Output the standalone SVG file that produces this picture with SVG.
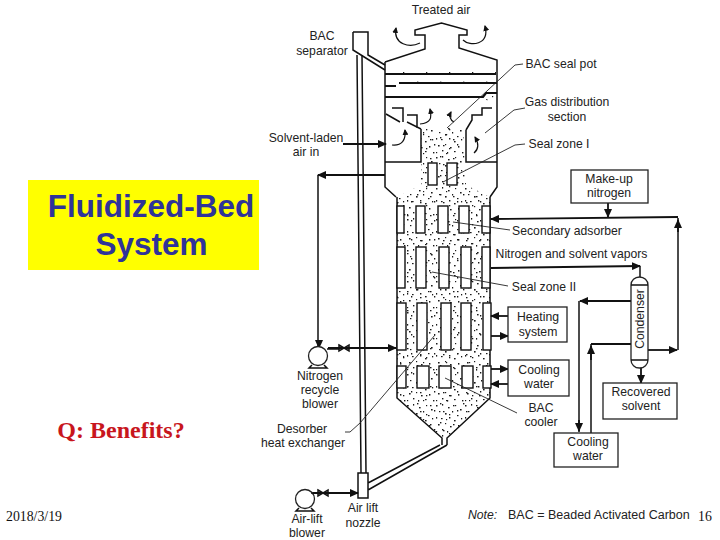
<svg xmlns="http://www.w3.org/2000/svg" width="720" height="540" viewBox="0 0 720 540">
<style>
.l{font-family:"Liberation Sans",Arial,sans-serif;font-size:12.2px;fill:#222;text-anchor:middle}
.s{fill:none;stroke:#111;stroke-width:1.5}
.b{fill:none;stroke:#111;stroke-width:2.2}
.t{fill:#fff;stroke:#111;stroke-width:1.4}
.x{fill:#fff;stroke:#222;stroke-width:1.3}
.d{fill:none;stroke:#222;stroke-width:.9}
.a{fill:none;stroke:#111;stroke-width:1.8;marker-end:url(#ah)}
.ar{fill:none;stroke:#111;stroke-width:1.2;marker-end:url(#ah2)}
.big{font-family:"Liberation Sans",Arial,sans-serif;font-size:31.500px;font-weight:bold;fill:#2f3399;text-anchor:middle}
.sf{font-family:"Liberation Serif","Times New Roman",serif;font-size:13.800px;fill:#111}
</style>
<defs>
<marker id="ah" markerUnits="userSpaceOnUse" markerWidth="9" markerHeight="8" refX="8" refY="4" orient="auto"><path d="M0 0L9 4L0 8Z" fill="#111"/></marker>
<marker id="ah2" markerUnits="userSpaceOnUse" markerWidth="6" markerHeight="6" refX="5" refY="3" orient="auto"><path d="M0 0L6 3L0 6Z" fill="#111"/></marker>
<pattern id="st" width="29" height="31" patternUnits="userSpaceOnUse">
<g fill="#1a1a1a"><rect x="1" y="2" width="1.5" height="1.5"/><rect x="7" y="1" width="1.2" height="1.6"/><rect x="13" y="4" width="1.6" height="1.4"/><rect x="20" y="2" width="1.2" height="1.2"/><rect x="25" y="6" width="1.6" height="1.5"/><rect x="4" y="8" width="1.4" height="1.2"/><rect x="10" y="10" width="1.6" height="1.6"/><rect x="17" y="8" width="1.2" height="1.5"/><rect x="22" y="12" width="1.5" height="1.2"/><rect x="1" y="14" width="1.2" height="1.6"/><rect x="6" y="15" width="1.6" height="1.2"/><rect x="14" y="14" width="1.4" height="1.5"/><rect x="26" y="15" width="1.2" height="1.4"/><rect x="19" y="17" width="1.6" height="1.4"/><rect x="3" y="21" width="1.6" height="1.5"/><rect x="10" y="20" width="1.2" height="1.2"/><rect x="15" y="23" width="1.6" height="1.4"/><rect x="23" y="22" width="1.4" height="1.6"/><rect x="7" y="26" width="1.4" height="1.4"/><rect x="12" y="28" width="1.2" height="1.6"/><rect x="19" y="27" width="1.6" height="1.2"/><rect x="27" y="28" width="1.4" height="1.4"/><rect x="1" y="28" width="1.2" height="1.2"/></g>
</pattern>
<pattern id="st2" width="23" height="19" patternUnits="userSpaceOnUse">
<g fill="#1a1a1a"><rect x="3" y="4" width="1.4" height="1.4"/><rect x="9" y="1" width="1.2" height="1.2"/><rect x="16" y="6" width="1.5" height="1.3"/><rect x="20" y="11" width="1.3" height="1.5"/><rect x="6" y="12" width="1.5" height="1.3"/><rect x="12" y="15" width="1.3" height="1.3"/></g>
</pattern>
</defs>
<rect width="720" height="540" fill="#fff"/>

<g id="title">
<rect x="28" y="180" width="231" height="90" fill="#ff0"/>
<text class="big" x="151" y="217">Fluidized-Bed</text>
<text class="big" x="151.500" y="255">System</text>
</g>
<text id="question" x="121" y="438" text-anchor="middle" style="font-family:'Liberation Serif','Times New Roman',serif;font-size:24px;font-weight:bold;fill:#c8161d">Q: Benefits?</text>
<text id="date" class="sf" x="6" y="521">2018/3/19</text>
<text id="page" class="sf" x="698" y="521">16</text>

<g id="vessel">
<path id="bed" d="M421 128L463 128L466 185L490 197L490 398L447 438L442 438L397 398L397 197L421 185Z" fill="url(#st)"/>
<path d="M421 128L463 128L466 185L490 197L490 398L447 438L442 438L397 398L397 197L421 185Z" fill="url(#st2)"/>
<path d="M388 71H496V75H388ZM396 81H497V84H396ZM386 94H484V97H386ZM484 96L491 107L497 107L497 96Z" fill="url(#st2)"/>
<path class="s" d="M385 62L425 49V35H415V30L441.500 23L467 30V35H459V48L497 60V187L490 197M385 62V187L396 197"/>
<path class="s" d="M353 32H368V55L385 65M353 32V50L385 70"/>
<path class="b" d="M385 74H496M399 83H497M385 97H483L486 93H497M385 86H396"/>
<path class="s" d="M397 197V398L442 438V445M490 197V398L447 438V445"/>
<path class="s" d="M385 162H421V129M497 162H466V130M421 129L407 122M392 108H403V122M407 115H417V128M466 130L472 120V115H482V108H492M386 114L400 122"/>
<path class="s" d="M357 55L361 473M362 55L366 473"/>
<path class="s" d="M358 473H368V498H358ZM368 483L440 445M368 490L447 445"/>
<g id="tubes">
<rect class="t" x="428" y="163" width="9" height="22"/><rect class="t" x="447" y="163" width="10" height="22"/>
<rect class="t" x="397" y="206" width="7" height="27"/><rect class="t" x="416" y="206" width="9" height="27"/><rect class="t" x="438" y="206" width="10" height="27"/><rect class="t" x="459" y="206" width="10" height="27"/><rect class="t" x="482" y="206" width="8" height="27"/>
<rect class="t" x="397" y="247" width="8" height="41"/><rect class="t" x="416" y="247" width="10" height="41"/><rect class="t" x="439" y="247" width="10" height="41"/><rect class="t" x="461" y="247" width="10" height="41"/><rect class="t" x="482" y="247" width="8" height="41"/>
<rect class="t" x="397" y="303" width="9" height="47"/><rect class="t" x="417" y="303" width="10" height="47"/><rect class="t" x="441" y="303" width="10" height="47"/><rect class="t" x="461" y="303" width="10" height="47"/><rect class="t" x="483" y="303" width="8" height="47"/>
<rect class="t" x="397" y="366" width="9" height="22"/><rect class="t" x="417" y="366" width="12" height="22"/><rect class="t" x="439" y="366" width="12" height="22"/><rect class="t" x="462" y="366" width="11" height="22"/><rect class="t" x="483" y="366" width="8" height="22"/>
</g>
</g>

<g id="connectors">
<path class="ar" d="M420 43C410 48 393 45 396 28"/>
<path class="ar" d="M463 40C470 47 490 45 485 26"/>
<path class="ar" d="M392 145C402 146 406 140 405 130"/>
<path class="ar" d="M474 153C480 148 478 142 475 137"/>
<path class="ar" d="M420 124C431 123 432 118 430 109"/>
<path class="ar" d="M454 122C450 120 449 116 451 112"/>
<path class="a" d="M343 144H386"/>
<path class="a" d="M385 175H318"/>
<path class="s" d="M318 175V347"/>
<path class="a" d="M319 340V348"/>
<path class="a" d="M328 348H396"/>
<path class="s" d="M339 345L349 351V345L339 351Z"/>
<path class="a" d="M313 493H358"/>
<path class="s" d="M318 490L328 496V490L318 496Z"/>
<path class="a" d="M608 203V217"/>
<path class="a" d="M678 217L491 219"/>
<path class="a" d="M491 268L640 266"/>
<path class="s" d="M640 266V277"/>
<path class="b" d="M631 344H591"/>
<path class="s" d="M678 350V218"/>
<path class="a" d="M678 232V220"/>
<path class="a" d="M648 350H677"/>
<path class="a" d="M631 301H580"/>
<path class="s" d="M579 301V432"/>
<path class="a" d="M579 420V431"/>
<path class="s" d="M591 344V433"/>
<path class="a" d="M591 360V346"/>
<path class="a" d="M641 368V383"/>
<path class="a" d="M508 316H491"/>
<path class="a" d="M491 336H508"/>
<path class="a" d="M491 369H508"/>
<path class="a" d="M508 384H491"/>
<path class="d" d="M523 64L515 65L447 128M525 108L514 110L485 133M525 144L515 145L443 182M510 230L453 222M508 286L432 272M435 335L360 423L350 432H345M517 413L445 378"/>
</g>

<g id="condenser"><path class="x" d="M631 360V285A8.500 8 0 0 1 648 285V360A8.500 8 0 0 1 631 360Z"/><path class="s" d="M631 285H648M631 360H648"/><text class="l" transform="translate(644,319) rotate(-90)">Condenser</text></g>
<g id="makeup"><rect class="x" x="571" y="170" width="77" height="33"/><text class="l" x="609" y="183">Make-up</text><text class="l" x="609" y="197">nitrogen</text></g>
<g id="heating"><rect class="x" x="508" y="307" width="59" height="35"/><text class="l" x="538" y="321">Heating</text><text class="l" x="538" y="336">system</text></g>
<g id="cooling1"><rect class="x" x="508" y="360" width="61" height="36"/><text class="l" x="539" y="374">Cooling</text><text class="l" x="539" y="388">water</text></g>
<g id="recovered"><rect class="x" x="603" y="383" width="74" height="36"/><text class="l" x="641" y="396">Recovered</text><text class="l" x="641" y="410">solvent</text></g>
<g id="cooling2"><rect class="x" x="554" y="433" width="64" height="34"/><text class="l" x="588" y="446">Cooling</text><text class="l" x="588" y="460">water</text></g>
<g id="recycle-blower"><circle class="x" cx="318" cy="356" r="9.500"/><path class="s" d="M312 365L309 368H327L324 365M327 349H339"/><text class="l" x="320" y="380">Nitrogen</text><text class="l" x="320" y="394">recycle</text><text class="l" x="320" y="408">blower</text></g>
<g id="airlift-blower"><circle class="x" cx="305" cy="499" r="9.500"/><path class="s" d="M299 508L296 511H314L311 508M311 493H318"/><text class="l" x="307" y="523">Air-lift</text><text class="l" x="307" y="537">blower</text></g>

<g id="labels">
<text class="l" x="441" y="14">Treated air</text>
<text class="l" x="322" y="40">BAC</text><text class="l" x="322" y="55">separator</text>
<text class="l" x="306" y="142">Solvent-laden</text><text class="l" x="306" y="156">air in</text>
<text class="l" x="561" y="68">BAC seal pot</text>
<text class="l" x="567" y="106">Gas distribution</text><text class="l" x="567" y="121">section</text>
<text class="l" x="559" y="148">Seal zone I</text>
<text class="l" x="567" y="235">Secondary adsorber</text>
<text class="l" x="571.500" y="258">Nitrogen and solvent vapors</text>
<text class="l" x="544" y="291">Seal zone II</text>
<text class="l" x="541" y="412">BAC</text><text class="l" x="541" y="426">cooler</text>
<text class="l" x="302" y="433">Desorber</text><text class="l" x="303" y="447">heat exchanger</text>
<text class="l" x="363" y="512">Air lift</text><text class="l" x="363" y="527">nozzle</text>
<text x="468" y="519" style="font-family:'Liberation Sans',Arial,sans-serif;font-size:12.200px;font-style:italic;fill:#222">Note:</text>
<text x="508" y="519" style="font-family:'Liberation Sans',Arial,sans-serif;font-size:12.500px;fill:#222">BAC = Beaded Activated Carbon</text>
</g>
</svg>
